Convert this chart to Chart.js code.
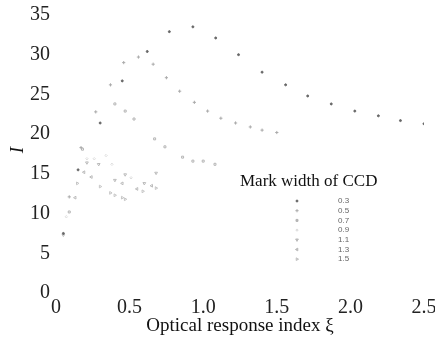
<!DOCTYPE html>
<html>
<head>
<meta charset="utf-8">
<script src="https://cdn.jsdelivr.net/npm/chart.js@4.4.1/dist/chart.umd.min.js"></script>
<style>
  html, body { margin: 0; padding: 0; background: #fff; }
</style>
</head>
<body>
<canvas id="markChart" width="435" height="344"></canvas>
<script>
// mark widths of CCD (legend labels)
var markWidths = ['0.3', '0.5', '0.7', '0.9', '1.1', '1.3', '1.5'];
var xTicks = [0, 0.5, 1.0, 1.5, 2.0, 2.5];
var yTicks = [0, 5, 10, 15, 20, 25, 30, 35];

// optical response index xi / I, one pair per mark width
var xi03 = [0.05, 0.15, 0.30, 0.45, 0.62, 0.77, 0.93, 1.085, 1.24, 1.40, 1.56, 1.71, 1.87, 2.03, 2.19, 2.34, 2.50];
var I03  = [7.5, 15.5, 21.4, 26.7, 30.4, 32.9, 33.5, 32.1, 30.0, 27.8, 26.2, 24.8, 23.8, 22.9, 22.3, 21.7, 21.3];

var xi05 = [0.09, 0.17, 0.27, 0.37, 0.46, 0.56, 0.66, 0.75, 0.84, 0.94, 1.03, 1.12, 1.22, 1.32, 1.40, 1.50];
var I05  = [12.1, 18.3, 22.8, 26.2, 29.0, 29.7, 28.8, 27.1, 25.4, 24.0, 22.9, 22.0, 21.4, 20.9, 20.5, 20.2];

var xi07 = [0.09, 0.18, 0.40, 0.47, 0.53, 0.67, 0.74, 0.86, 0.93, 1.00, 1.08];
var I07  = [10.2, 18.1, 23.8, 22.9, 21.9, 19.4, 18.4, 17.1, 16.6, 16.6, 16.2];

var xi09 = [0.07, 0.21, 0.26, 0.34, 0.38, 0.51];
var I09  = [9.6, 16.9, 16.9, 17.3, 16.2, 14.5];

var xi11 = [0.05, 0.21, 0.29, 0.40, 0.47, 0.60, 0.68];
var I11  = [7.3, 16.4, 16.2, 14.2, 14.9, 13.8, 15.1];

var xi13 = [0.13, 0.19, 0.24, 0.45, 0.55, 0.65];
var I13  = [12.0, 15.2, 14.6, 13.8, 13.1, 13.5];

var xi15 = [0.145, 0.30, 0.37, 0.40, 0.45, 0.47, 0.59, 0.68];
var I15  = [13.8, 13.4, 12.6, 12.3, 12.0, 11.8, 12.8, 13.2];

var seriesX = [xi03, xi05, xi07, xi09, xi11, xi13, xi15];
var seriesY = [I03, I05, I07, I09, I11, I13, I15];
var markStyles = ['circle', 'cross', 'rect', 'rectRot', 'triangle', 'triangle', 'triangle'];
var markRot = [0, 0, 0, 0, 180, 270, 90];
var markRadius = [1, 1.6, 1.4, 1.2, 1.6, 1.6, 1.6];
var markColors = ['#666', '#aaa', '#b5b5b5', '#ddd', '#bbb', '#bbb', '#c5c5c5'];

var datasets = seriesX.map(function (xs, k) {
    return {
        label: markWidths[k],
        data: xs.map(function (x, i) { return {x: x, y: seriesY[k][i]}; }),
        pointStyle: markStyles[k],
        pointRotation: markRot[k],
        pointRadius: markRadius[k],
        pointBorderWidth: 1,
        borderColor: markColors[k],
        backgroundColor: k === 0 ? markColors[k] : 'rgba(0,0,0,0)',
        showLine: false
    };
});

// legend drawn inside the plot
var markLegend = {
    id: 'markLegend',
    afterDatasetsDraw: function (chart) {
        var ctx = chart.ctx;
        ctx.save();
        ctx.fillStyle = '#111';
        ctx.font = '17px "Liberation Serif"';
        ctx.textBaseline = 'middle';
        ctx.textAlign = 'left';
        ctx.fillText('Mark width of CCD', 240, 182);
        ctx.font = '8px "Liberation Sans"';
        for (var k = 0; k < markWidths.length; k++) {
            var y = 201 + k * 9.7;
            ctx.strokeStyle = markColors[k];
            ctx.fillStyle = markColors[k];
            ctx.lineWidth = 1;
            Chart.helpers.drawPoint(ctx, {
                pointStyle: markStyles[k], rotation: markRot[k],
                radius: markRadius[k], borderWidth: 1
            }, 297, y);
            ctx.fillStyle = '#666';
            ctx.fillText(markWidths[k], 338, y);
        }
        ctx.restore();
    }
};

var ctx = document.getElementById('markChart').getContext('2d');
var chart = new Chart(ctx, {
    type: 'scatter',
    data: { datasets: datasets },
    plugins: [markLegend],
    options: {
        responsive: false,
        animation: false,
        layout: { padding: { top: 7, left: 0, right: 0, bottom: 0 } },
        plugins: {
            legend: { display: false },
            tooltip: { enabled: false }
        },
        scales: {
            x: {
                type: 'linear',
                min: 0,
                max: 2.5,
                grid: { display: false, drawTicks: false },
                border: { display: false },
                afterBuildTicks: function (s) { s.ticks = xTicks.map(function (v) { return {value: v}; }); },
                afterFit: function (s) { s.height = 51; s.paddingRight = 11; s.paddingLeft = 0; },
                ticks: {
                    color: '#222',
                    padding: 3,
                    maxRotation: 0,
                    font: { family: 'Liberation Serif', size: 20 },
                    callback: function (v) { return v === 0 ? '0' : v.toFixed(1); }
                },
                title: {
                    display: true,
                    text: 'Optical response index ξ',
                    color: '#111',
                    font: { family: 'Liberation Serif', size: 19 },
                    padding: { top: 0, bottom: 7 }
                }
            },
            y: {
                type: 'linear',
                min: 0,
                max: 36,
                grid: { display: false, drawTicks: false },
                border: { display: false },
                afterBuildTicks: function (s) { s.ticks = yTicks.map(function (v) { return {value: v}; }); },
                afterFit: function (s) { s.width = 56; s.paddingTop = 0; },
                ticks: {
                    color: '#222',
                    padding: 6,
                    font: { family: 'Liberation Serif', size: 20 }
                },
                title: {
                    display: true,
                    text: 'I',
                    color: '#111',
                    font: { family: 'Liberation Serif', size: 19, style: 'italic' },
                    padding: { top: 7, bottom: 0 }
                }
            }
        }
    }
});
</script>
</body>
</html>
